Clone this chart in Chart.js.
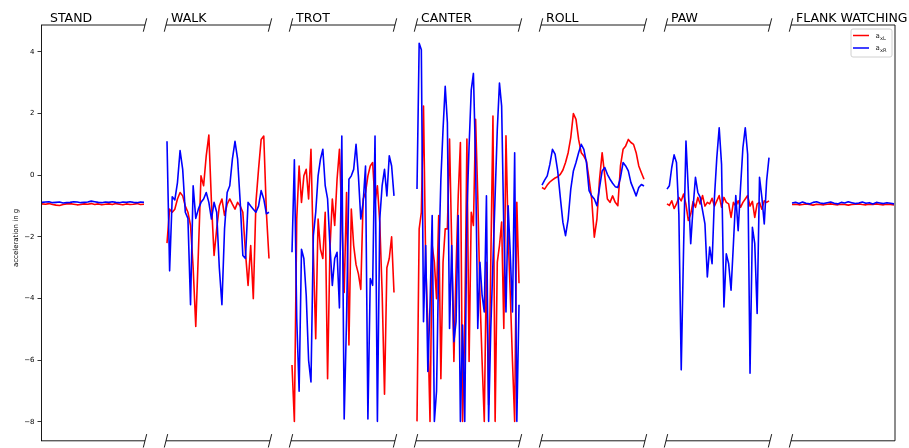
<!DOCTYPE html>
<html>
<head>
<meta charset="utf-8">
<script src="https://cdn.jsdelivr.net/npm/chart.js@4"></script>
<style>
  body { margin: 0; background: #fff; }
  canvas { display: block; }
</style>
</head>
<body>
<canvas id="accChart" width="909" height="448"></canvas>
<script>
// activity panels (broken x axis), one per behaviour
var panels = ["STAND", "WALK", "TROT", "CANTER", "ROLL", "PAW", "FLANK WATCHING"];
var yTicks = [-8, -6, -4, -2, 0, 2, 4];
var yLabel = "acceleration in g";
var legendLabels = [["a", "xL"], ["a", "xR"]];

// acceleration in g, left (red) and right (blue) sensor
var standL = [-0.93, -0.94, -0.92, -0.95, -0.97, -0.98, -0.95, -0.93, -0.92, -0.94, -0.96, -0.95, -0.93, -0.94, -0.92,
    -0.95, -0.93, -0.96, -0.94, -0.93, -0.95, -0.92, -0.94, -0.96, -0.93, -0.95, -0.94, -0.92, -0.95, -0.94];
var standR = [-0.88, -0.87, -0.86, -0.89, -0.88, -0.87, -0.9, -0.89, -0.88, -0.86, -0.87, -0.89, -0.88, -0.87, -0.84,
    -0.86, -0.88, -0.89, -0.87, -0.88, -0.86, -0.88, -0.89, -0.87, -0.88, -0.86, -0.88, -0.89, -0.87, -0.88];

var walkL = [-2.2, -1.1, -1.2, -1.1, -0.77, -0.56, -0.67, -1.0, -1.2, -1.63, -3.0, -4.9, -2.5, -0.02, -0.34, 0.63,
    1.3, -0.88, -2.6, -1.74, -1.0, -0.77, -1.3, -0.94, -0.77, -0.94, -1.1, -0.88, -1.0, -1.2, -2.5, -3.57, -2.28,
    -4.0, -0.88, 0.19, 1.16, 1.27, -1.2, -2.7];
var walkR = [1.1, -3.1, -0.7, -0.8, -0.24, 0.8, 0.19, -1.2, -1.4, -4.2, -0.34, -1.4, -1.1, -0.88, -0.77, -0.56,
    -0.88, -1.42, -0.88, -1.2, -3.0, -4.2, -1.74, -0.56, -0.34, 0.52, 1.1, 0.52, -0.88, -2.6, -2.7, -0.88, -1.0,
    -1.1, -1.2, -1.0, -0.5, -0.77, -1.25, -1.2];

var trotL = [-6.15, -7.98, -1.42, 0.3, -0.88, -0.02, 0.19, -0.77, 0.84, -2.5, -5.3, -1.42, -2.4, -2.7, -1.2, -6.6,
    -2.4, -0.77, -1.63, -0.13, 0.84, -1.42, -3.8, -0.56, -5.5, -1.1, -2.28, -2.9, -3.2, -3.7, -0.77, -0.56, -0.02,
    0.3, 0.41, -0.88, -0.34, -1.53, -3.8, -7.1, -3.0, -2.7, -2.0, -3.8];
var trotR = [-2.5, 0.5, -4.65, -7.0, -2.4, -2.7, -3.9, -6.0, -6.7, -1.96, -1.2, -0.02, 0.52, 0.84, -0.34, -0.77,
    -2.28, -3.57, -2.7, -2.5, -4.3, 1.27, -7.9, -4.65, -0.13, -0.02, 0.19, 1.0, -0.02, -1.42, -0.88, 0.3, -7.9,
    -3.35, -3.57, 1.27, -7.98, -1.42, -0.34, 0.19, -0.67, 0.63, 0.3, -0.67];

var canterL = [-7.98, -1.74, -1.2, 2.24, -2.82, -4.86, -7.98, -2.28, -2.82, -4.0, -1.31, -6.6, -2.82, -1.74, -1.74,
    1.17, -2.28, -6.04, -3.03, -0.67, 1.06, -7.98, -4.97, 1.17, -6.04, -1.2, -1.63, 1.81, -0.67, -3.89, -6.04,
    -7.98, -2.82, -7.44, -2.82, 1.92, -7.98, -2.82, -2.28, -1.52, -4.97, 1.28, -1.95, -3.89, -6.04, -7.98, -0.88, -3.5];
var canterR = [-0.45, 4.28, 4.07, -4.75, -2.28, -6.36, -4.2, -1.31, -7.98, -7.0, -2.82, -0.13, 1.49, 2.88, 1.7,
    -4.97, -2.28, -5.4, -4.75, -1.31, -7.98, -4.86, -7.98, -1.2, 0.95, 2.77, 3.3, 0.41, -4.97, -2.82, -3.89, -4.43,
    -0.67, -7.98, -4.97, -2.82, -0.67, 1.49, 2.99, 2.24, -1.74, -4.43, -0.99, -2.6, -4.43, 0.73, -7.98, -4.2];

var rollL = [-0.4, -0.45, -0.32, -0.22, -0.15, -0.09, -0.05, 0.03, 0.17, 0.41, 0.73, 1.22, 2.0, 1.81, 1.16, 0.73,
    0.62, 0.46, -0.13, -0.77, -2.01, -1.42, -0.13, 0.73, -0.02, -0.77, -0.88, -0.67, -0.88, -0.99, 0.3, 0.84, 0.95,
    1.16, 1.06, 1.0, 0.73, 0.3, 0.08, -0.13];
var rollR = [-0.32, -0.16, -0.02, 0.35, 0.84, 0.68, 0.14, -0.72, -1.53, -1.96, -1.42, -0.45, 0.14, 0.41, 0.73, 1.0,
    0.84, 0.41, -0.5, -0.67, -0.77, -0.99, -0.4, 0.14, 0.25, 0.03, -0.13, -0.26, -0.37, -0.4, -0.08, 0.41, 0.3,
    0.14, -0.24, -0.45, -0.67, -0.4, -0.3, -0.35];

var pawL = [-0.93, -0.98, -0.83, -1.08, -0.93, -0.72, -0.83, -0.61, -0.95, -1.47, -1.26, -0.85, -1.04, -0.72, -0.93,
    -0.66, -1.0, -0.88, -0.93, -0.75, -1.0, -0.83, -0.66, -1.04, -0.72, -0.88, -0.93, -1.37, -0.88, -1.0, -0.83,
    -1.04, -0.88, -0.77, -0.66, -1.0, -0.85, -1.37, -0.93, -0.88, -1.1, -0.83, -0.88, -0.83];
var pawR = [-0.45, -0.34, 0.25, 0.66, 0.41, -1.26, -6.31, -2.33, 1.11, -0.5, -2.22, -1.04, -0.07, -0.56, -0.72,
    -1.15, -1.58, -3.3, -2.33, -2.87, -0.72, 0.57, 1.54, 0.35, -4.27, -2.55, -2.87, -3.73, -2.22, -0.66, -1.8, -0.4,
    0.89, 1.54, 0.68, -6.42, -1.69, -2.22, -4.48, -0.07, -0.72, -1.58, -0.18, 0.57];

var flankL = [-0.95, -0.94, -0.96, -0.95, -0.93, -0.95, -0.97, -0.94, -0.95, -0.96, -0.94, -0.93, -0.95, -0.96, -0.94,
    -0.95, -0.97, -0.95, -0.94, -0.93, -0.95, -0.96, -0.94, -0.95, -0.93, -0.95, -0.96, -0.94, -0.95, -0.96];
var flankR = [-0.9, -0.88, -0.92, -0.87, -0.91, -0.93, -0.88, -0.86, -0.9, -0.92, -0.89, -0.87, -0.91, -0.93, -0.88,
    -0.9, -0.86, -0.89, -0.92, -0.9, -0.87, -0.91, -0.89, -0.93, -0.88, -0.9, -0.92, -0.89, -0.91, -0.93];

var seriesL = [standL, walkL, trotL, canterL, rollL, pawL, flankL];
var seriesR = [standR, walkR, trotR, canterR, rollR, pawR, flankR];

var PANEL_STEP = 125;  // panel width + gap, in x units (= px)
var PANEL_W = 104;
var FONT = "'DejaVu Sans', sans-serif";

// samples are evenly spaced inside each panel, a null point breaks the line between panels
function toPoints(list) {
    var pts = [];
    list.forEach(function (vals, k) {
        vals.forEach(function (v, i) {
            pts.push({ x: k * PANEL_STEP + 1 + i * 102 / (vals.length - 1), y: v });
        });
        pts.push({ x: k * PANEL_STEP + PANEL_W + 10, y: null });
    });
    return pts;
}

function slash(ctx, x, y) {
    ctx.beginPath();
    ctx.moveTo(x - 1.7, y + 6.7);
    ctx.lineTo(x + 1.7, y - 6.7);
    ctx.stroke();
}

var brokenAxes = {
    id: "brokenAxes",
    afterDraw: function (chart) {
        var ctx = chart.ctx, a = chart.chartArea, xs = chart.scales.x;
        ctx.save();
        ctx.strokeStyle = "#000";
        ctx.lineWidth = 0.9;
        ctx.fillStyle = "#000";
        ctx.font = "12.5px " + FONT;
        ctx.textBaseline = "alphabetic";
        panels.forEach(function (name, k) {
            var x0 = xs.getPixelForValue(k * PANEL_STEP);
            var x1 = xs.getPixelForValue(k * PANEL_STEP + PANEL_W);
            [a.top, a.bottom].forEach(function (y) {
                ctx.beginPath();
                ctx.moveTo(x0, y);
                ctx.lineTo(x1, y);
                ctx.stroke();
                if (k > 0) slash(ctx, x0, y);
                if (k < panels.length - 1) slash(ctx, x1, y);
            });
            ctx.fillText(name, x0 + (k === 0 ? 9 : 5), a.top - 3.5);
        });
        // right spine of the last panel
        var xr = xs.getPixelForValue((panels.length - 1) * PANEL_STEP + PANEL_W);
        ctx.beginPath();
        ctx.moveTo(xr, a.top);
        ctx.lineTo(xr, a.bottom);
        ctx.stroke();

        // y axis label
        ctx.save();
        ctx.translate(16.5, (a.top + a.bottom) / 2 + 5);
        ctx.rotate(-Math.PI / 2);
        ctx.textAlign = "center";
        ctx.textBaseline = "middle";
        ctx.font = "7px " + FONT;
        ctx.fillStyle = "#000";
        ctx.fillText(yLabel, 0, 0);
        ctx.restore();

        // legend box, top right
        var bx = xr - 44, by = a.top + 4, bw = 41, bh = 28;
        ctx.fillStyle = "rgba(255,255,255,0.8)";
        ctx.strokeStyle = "#d0d0d0";
        ctx.lineWidth = 1;
        ctx.beginPath();
        ctx.roundRect(bx, by, bw, bh, 2);
        ctx.fill();
        ctx.stroke();
        var colors = ["#ff0000", "#0000ff"];
        legendLabels.forEach(function (lab, i) {
            var ly = by + 6.5 + i * 12.5;
            ctx.strokeStyle = colors[i];
            ctx.lineWidth = 1.5;
            ctx.beginPath();
            ctx.moveTo(bx + 2, ly);
            ctx.lineTo(bx + 18, ly);
            ctx.stroke();
            ctx.fillStyle = "#222";
            ctx.font = "7px " + FONT;
            ctx.fillText(lab[0], bx + 24.5, ly + 2);
            ctx.font = "5.2px " + FONT;
            ctx.fillText(lab[1], bx + 29, ly + 4);
        });
        ctx.restore();
    }
};

var ctx = document.getElementById("accChart").getContext("2d");

new Chart(ctx, {
    type: "line",
    data: {
        datasets: [{
            label: "a_xL",
            data: toPoints(seriesL),
            borderColor: "#ff0000",
            borderWidth: 1.6,
            order: 2
        }, {
            label: "a_xR",
            data: toPoints(seriesR),
            borderColor: "#0000ff",
            borderWidth: 1.6,
            order: 1
        }]
    },
    options: {
        responsive: false,
        animation: false,
        layout: { padding: { top: 25, right: 14, bottom: 6, left: 0 } },
        elements: {
            point: { radius: 0 },
            line: { tension: 0, borderJoinStyle: "round", fill: false }
        },
        plugins: {
            legend: { display: false },
            tooltip: { enabled: false }
        },
        scales: {
            x: {
                type: "linear",
                display: false,
                min: 0,
                max: (panels.length - 1) * PANEL_STEP + PANEL_W
            },
            y: {
                min: -8.61,
                max: 4.87,
                afterBuildTicks: function (axis) {
                    axis.ticks = yTicks.map(function (v) { return { value: v }; });
                },
                afterFit: function (axis) {
                    axis.width = 41;
                },
                grid: {
                    drawOnChartArea: false,
                    tickLength: 3.5,
                    tickColor: "#000",
                    tickWidth: 0.8
                },
                border: { display: true, color: "#000", width: 0.9 },
                ticks: {
                    padding: 3,
                    color: "#000",
                    font: { family: FONT, size: 7 },
                    callback: function (v) { return v < 0 ? "\u2212" + Math.abs(v) : String(v); }
                },
                title: { display: false }
            }
        }
    },
    plugins: [brokenAxes]
});
</script>
</body>
</html>
